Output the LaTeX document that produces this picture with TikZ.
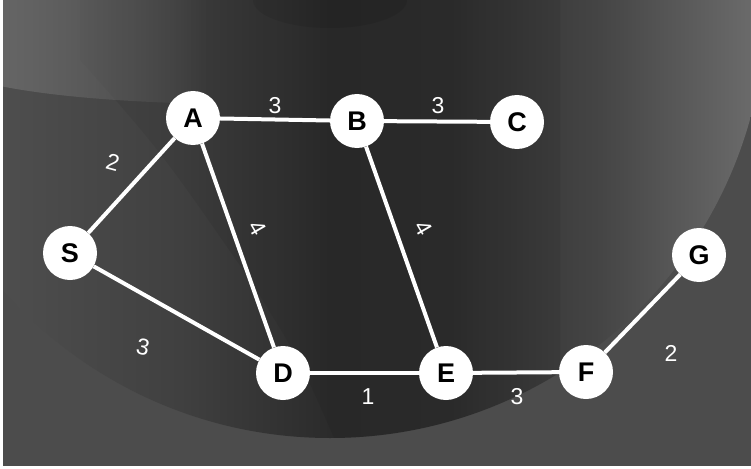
\documentclass[tikz,border=0pt]{standalone}
\usepackage{fontspec}
\setmainfont{Liberation Sans}
\usetikzlibrary{fadings}
\definecolor{c0}{HTML}{4E4E4E}
\definecolor{c1}{HTML}{404040}
\definecolor{c2}{HTML}{2B2B2B}
\definecolor{c3}{HTML}{2D2D2D}
\definecolor{c4}{HTML}{454545}
\definecolor{c5}{HTML}{6A6A6A}
\definecolor{outer}{HTML}{4C4C4C}
\definecolor{lightband}{HTML}{666666}
\pgfdeclarehorizontalshading{innersh}{100bp}{color(0bp)=(c0); color(25bp)=(c0); color(37bp)=(c1); color(47bp)=(c2); color(55bp)=(c3); color(65bp)=(c4); color(75bp)=(c5); color(100bp)=(c5)}
\tikzset{
  vert/.style={circle, fill=white, draw=none, minimum size=54pt, inner sep=0pt,
    font=\fontsize{27}{27}\selectfont\bfseries, text=black},
  link/.style={draw=white, line width=4pt},
  wlab/.style={text=white, inner sep=0pt, font=\fontsize{23}{23}\selectfont}
}
\begin{document}
\begin{tikzpicture}[x=1pt,y=-1pt]
\useasboundingbox (0,0) rectangle (751,468);
% background
\fill[white] (0,0) rectangle (751,468);
\fill[outer] (3,0) rectangle (751,466);
\begin{scope}
  \clip (3,0) rectangle (751,466);
  \begin{scope}
    \clip (330,2) circle (436);
    \shade[shading=innersh] (0,0) rectangle (751,468);
    \fill[black,opacity=0.06] (80,60) .. controls (160,150) .. (250,280) .. controls (300,360) .. (335,440) -- (560,440) -- (560,-10) -- (80,-10) -- cycle;
    \fill[black,opacity=0.08] (330,0) ellipse (77 and 28);
    \fill[lightband, path fading=east] (0,0) -- (0,86) .. controls (50,96) and (120,102) .. (210,104) -- (210,0) -- cycle;
  \end{scope}
\end{scope}
% nodes
\node[vert] (A) at (193,118) {A};
\node[vert] (B) at (357,121) {B};
\node[vert] (C) at (517,122) {C};
\node[vert] (S) at (70,253) {S};
\node[vert] (D) at (283,373) {D};
\node[vert] (E) at (446,373) {E};
\node[vert] (F) at (586,372) {F};
\node[vert] (G) at (699,255) {G};
% edges
\draw[link] (S) -- (A);
\draw[link] (A) -- (B);
\draw[link] (B) -- (C);
\draw[link] (A) -- (D);
\draw[link] (B) -- (E);
\draw[link] (S) -- (D);
\draw[link] (D) -- (E);
\draw[link] (E) -- (F);
\draw[link] (F) -- (G);
% labels
\node[wlab] (lab) at (275,106) {3};
\node[wlab] (lbc) at (438,106) {3};
\node[wlab, rotate=-15] (lsa) at (113,162) {2};
\node[wlab, rotate=-60] (lad) at (258,228) {4};
\node[wlab, rotate=-60] (lbe) at (424,228) {4};
\node[wlab, rotate=-12] (lsd) at (143,347) {3};
\node[wlab] (lde) at (368,397) {1};
\node[wlab] (lef) at (517,397) {3};
\node[wlab] (lfg) at (671,353) {2};
\end{tikzpicture}
\end{document}
